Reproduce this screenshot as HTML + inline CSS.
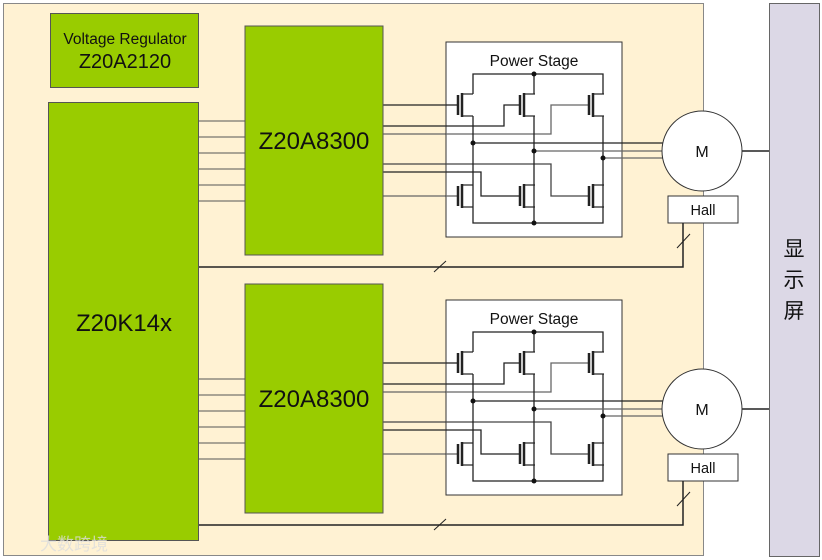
<!DOCTYPE html>
<html><head><meta charset="utf-8"><style>
html,body{margin:0;padding:0;background:#fff;}
svg{display:block;}
text{font-family:"Liberation Sans","Noto Sans CJK SC",sans-serif;}
</style></head><body>
<svg width="822" height="560" viewBox="0 0 822 560" xmlns="http://www.w3.org/2000/svg">
<defs>
<g id="tr" stroke="#222" fill="none">
  <line x1="0" y1="-10" x2="0" y2="10" stroke-width="2.5"/>
  <line x1="4" y1="-12" x2="4" y2="12" stroke-width="2.5"/>
  <line x1="4" y1="-11" x2="15" y2="-11" stroke-width="1.2"/>
  <line x1="4" y1="11" x2="15" y2="11" stroke-width="1.2"/>
</g>
<g id="stage">
  <g stroke="#222" stroke-width="1.3" fill="none">
    <polyline points="383,105 458,105"/>
    <polyline points="383,126 504,126 504,105 520,105"/>
    <polyline points="383,134 551,134 551,105 589,105" stroke="#666"/>
    <polyline points="383,164 551,164 551,196 589,196" stroke="#444"/>
    <polyline points="383,172 481,172 481,196 520,196"/>
    <polyline points="383,196 458,196" stroke="#666"/>
  </g>
  <rect x="446" y="42" width="176" height="195" fill="#fff" stroke="#333" stroke-width="1"/>
  <text x="534" y="66" font-size="15.5" text-anchor="middle" fill="#111">Power Stage</text>
  <g stroke="#222" stroke-width="1.3" fill="none">
    <polyline points="446,105 458,105"/>
    <polyline points="446,126 504,126 504,105 520,105"/>
    <polyline points="446,134 551,134 551,105 589,105" stroke="#666"/>
    <polyline points="446,164 551,164 551,196 589,196" stroke="#444"/>
    <polyline points="446,172 481,172 481,196 520,196"/>
    <polyline points="446,196 458,196" stroke="#666"/>
    <polyline points="473,94 473,74 603,74 603,94"/>
    <line x1="534" y1="74" x2="534" y2="94"/>
    <polyline points="473,185 473,223 603,223 603,185"/>
    <line x1="534" y1="223" x2="534" y2="185"/>
    <line x1="473" y1="116" x2="473" y2="185"/>
    <line x1="534" y1="116" x2="534" y2="185"/>
    <line x1="603" y1="116" x2="603" y2="185"/>
    <line x1="473" y1="143" x2="664" y2="143"/>
    <line x1="534" y1="151" x2="662" y2="151" stroke="#666"/>
    <line x1="603" y1="158" x2="664" y2="158" stroke="#666"/>
  </g>
  <use href="#tr" x="458" y="105"/><use href="#tr" x="520" y="105"/><use href="#tr" x="589" y="105"/>
  <use href="#tr" x="458" y="196"/><use href="#tr" x="520" y="196"/><use href="#tr" x="589" y="196"/>
  <g fill="#111">
    <circle cx="534" cy="74" r="2.5"/><circle cx="534" cy="223" r="2.5"/>
    <circle cx="473" cy="143" r="2.5"/><circle cx="534" cy="151" r="2.5"/><circle cx="603" cy="158" r="2.5"/>
  </g>
  <g stroke="#555" stroke-width="1">
    <line x1="198" y1="121" x2="245" y2="121"/><line x1="198" y1="137" x2="245" y2="137"/>
    <line x1="198" y1="153" x2="245" y2="153"/><line x1="198" y1="169" x2="245" y2="169"/>
    <line x1="198" y1="185" x2="245" y2="185"/><line x1="198" y1="201" x2="245" y2="201"/>
  </g>
  <rect x="245" y="26" width="138" height="229" fill="#99cc00" stroke="#555" stroke-width="1"/>
  <text x="314" y="149" font-size="24" text-anchor="middle" fill="#111">Z20A8300</text>
  <line x1="702" y1="151" x2="769" y2="151" stroke="#222" stroke-width="1.5"/>
  <circle cx="702" cy="151" r="40" fill="#fff" stroke="#333" stroke-width="1"/>
  <text x="702" y="157" font-size="16" text-anchor="middle" fill="#111">M</text>
  <rect x="668" y="196" width="70" height="27" fill="#fff" stroke="#333" stroke-width="1"/>
  <text x="703" y="215" font-size="14.5" text-anchor="middle" fill="#111">Hall</text>
  <polyline points="683,223 683,267 198,267" fill="none" stroke="#222" stroke-width="1.5"/>
  <line x1="434" y1="272" x2="446" y2="261" stroke="#222" stroke-width="1"/>
  <line x1="677" y1="248" x2="690" y2="234" stroke="#222" stroke-width="1"/>
</g>
</defs>
<rect x="3.5" y="3.5" width="700" height="552" fill="#fff2d3" stroke="#888" stroke-width="1"/>
<rect x="769.5" y="3.5" width="50" height="553" fill="#dcd8e6" stroke="#666" stroke-width="1"/>
<text x="794" y="256" font-size="21" text-anchor="middle" fill="#111">显</text>
<text x="794" y="287" font-size="21" text-anchor="middle" fill="#111">示</text>
<text x="794" y="318" font-size="21" text-anchor="middle" fill="#111">屏</text>
<rect x="50.5" y="13.5" width="148" height="74" fill="#99cc00" stroke="#555" stroke-width="1"/>
<text x="125" y="44" font-size="15.5" text-anchor="middle" fill="#111">Voltage Regulator</text>
<text x="125" y="68" font-size="20" text-anchor="middle" fill="#111">Z20A2120</text>
<use href="#stage"/>
<use href="#stage" y="258"/>
<rect x="48.5" y="102.5" width="150" height="438" fill="#99cc00" stroke="#555" stroke-width="1"/>
<text x="124" y="331" font-size="24" text-anchor="middle" fill="#111">Z20K14x</text>
<text x="40" y="550" font-size="17" fill="#ddd" opacity="0.8">大数跨境</text>
</svg>
</body></html>
